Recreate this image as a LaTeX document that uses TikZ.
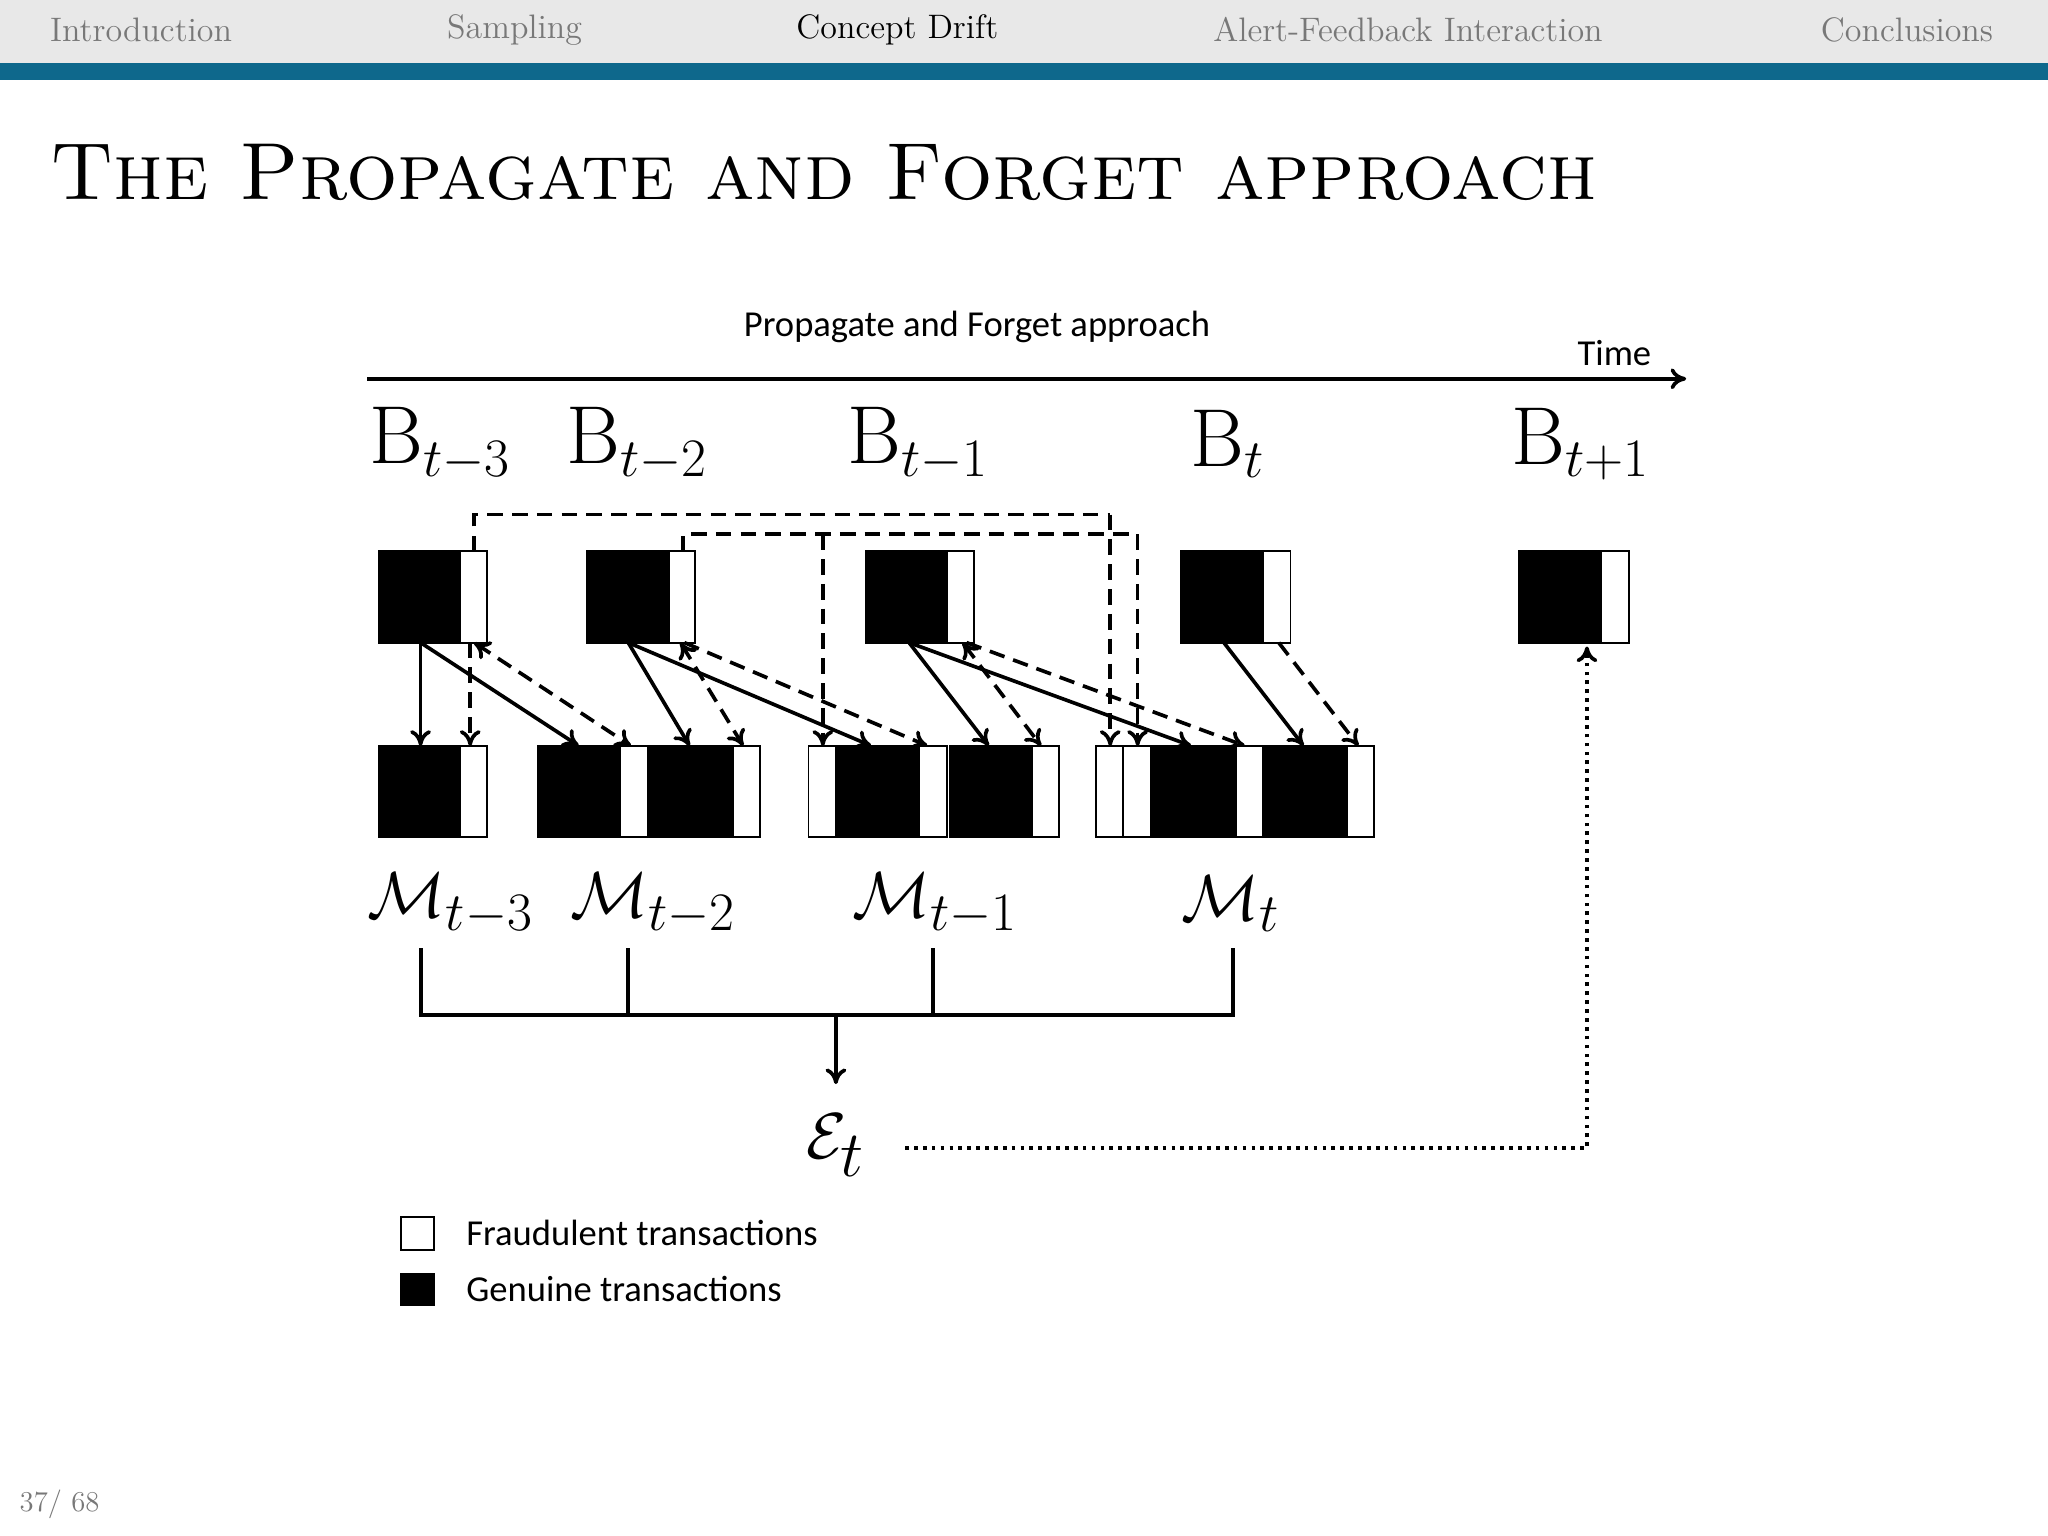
\documentclass[tikz,border=0pt]{standalone}
\usepackage{fontspec}
\newfontfamily\carlitofont{Carlito}
\usetikzlibrary{arrows.meta}
\definecolor{navgray}{RGB}{232,232,232}
\definecolor{navtext}{RGB}{120,120,120}
\definecolor{barblue}{RGB}{14,104,140}
\tikzset{
 blk/.style={fill=black,draw=black,line width=0.7pt},
 wht/.style={fill=white,draw=black,line width=0.7pt},
 tip/.tip={To[length=6pt,width=8pt]},
 arr/.style={line width=1.4pt,-tip},
 darr/.style={arr,dash pattern=on 6pt off 3.5pt},
 dline/.style={line width=1.4pt,dash pattern=on 6pt off 3.5pt},
 nav/.style={font=\fontsize{13}{13}\selectfont,text=navtext},
 lab/.style={font=\fontsize{31.5}{31.5}\selectfont},
 sans/.style={font=\carlitofont\fontsize{14}{14}\selectfont}
}
\begin{document}
\begin{tikzpicture}[x=0.5pt,y=-0.5pt]
\useasboundingbox (0,0) rectangle (1568,1176);
\fill[white] (0,0) rectangle (1568,1176);
\fill[navgray] (0,0) rectangle (1568,48);
\fill[barblue] (0,48) rectangle (1568,61);
\node[nav] (n1) at (108,23) {Introduction};
\node[nav] (n2) at (394,23) {Sampling};
\node[nav,text=black] (n3) at (687,23) {Concept Drift};
\node[nav] (n4) at (1078,23) {Alert-Feedback Interaction};
\node[nav] (n5) at (1460,23) {Conclusions};
\node[anchor=base west,font=\fontsize{31}{31}\selectfont,inner sep=0] (title) at (38,153) {\textsc{The Propagate and Forget approach}};
\node[sans] (cap) at (748,250) {Propagate and Forget approach};
\node[sans] (time) at (1236,270) {Time};
\coordinate (ta) at (281,290); \coordinate (tb) at (1291,290);
\draw[arr] (ta) -- (tb);
% B labels
\node[lab] (b3) at (337,340) {B$_{t-3}$};
\node[lab] (b2) at (488,340) {B$_{t-2}$};
\node[lab] (b1) at (703,340) {B$_{t-1}$};
\node[lab] (b0) at (940,340) {B$_{t}$};
\node[lab] (bp) at (1210,340) {B$_{t+1}$};
% top boxes
\foreach \a/\b/\c in {290/352/373,449/512/532,663/725/746,904/967/988,1163/1226/1247}{
 \filldraw[blk] (\a,422) rectangle (\b,492);
 \filldraw[wht] (\b,422) rectangle (\c,492);}
% bottom boxes
\foreach \a/\b/\c in {290/352/373,412/475/496,497/561/582,640/704/725,727/790/811,881/946/967,968/1031/1052}{
 \filldraw[blk] (\a,571) rectangle (\b,641);
 \filldraw[wht] (\b,571) rectangle (\c,641);}
\filldraw[wht] (619,571) rectangle (640,641);
\filldraw[wht] (839,571) rectangle (860,641);
\filldraw[wht] (860,571) rectangle (881,641);
% box1 arrows
\draw[arr] (322,492) -- (322,571);
\draw[darr] (360,492) -- (360,571);
\draw[arr] (322,492) -- (443,571);
\draw[darr,tip-tip] (363,492) -- (483,571);
% box2
\draw[arr] (481,492) -- (528,571);
\draw[arr] (481,492) -- (667,571);
\draw[darr,tip-tip] (521,492) -- (569,571);
\draw[darr] (524,492) -- (710,571);
% box3
\draw[arr] (696,492) -- (757,571);
\draw[arr] (696,492) -- (912,571);
\draw[darr,tip-tip] (737,492) -- (797,571);
\draw[darr] (740,492) -- (953,571);
% box4
\draw[arr] (937,492) -- (998,571);
\draw[darr] (979,492) -- (1040,571);
% long dashed
\draw[dline] (363,422) -- (363,394) -- (850,394);
\draw[darr] (850,394) -- (850,571);
\draw[dline] (523,422) -- (523,409) -- (871,409);
\draw[darr] (871,409) -- (871,571);
\draw[darr] (630,409) -- (630,571);
% M labels
\node[lab] (m3) at (345,692) {$\mathcal{M}_{t-3}$};
\node[lab] (m2) at (500,692) {$\mathcal{M}_{t-2}$};
\node[lab] (m1) at (716,692) {$\mathcal{M}_{t-1}$};
\node[lab] (m0) at (942,692) {$\mathcal{M}_{t}$};
\draw[line width=1.5pt] (322,726) -- (322,777) -- (944,777) -- (944,726);
\draw[line width=1.5pt] (481,726) -- (481,777);
\draw[line width=1.5pt] (714,726) -- (714,777);
\coordinate (ea) at (640,777);
\node[font=\fontsize{34}{34}\selectfont] (et) at (640,877) {$\mathcal{E}_{t}$};
\draw[arr] (ea) -- (640,830);
\coordinate (dc) at (1215,879);
\draw[line width=1.4pt,dotted,-tip] (693,879) -- (dc) -- (1215,495);
% legend
\draw[line width=0.8pt] (307,932) rectangle (332,957);
\filldraw[blk] (307,975) rectangle (332,999);
\node[sans,anchor=west] (lf) at (350,944) {Fraudulent transactions};
\node[sans,anchor=west] (lg) at (350,987) {Genuine transactions};
\node[anchor=west,text=navtext,font=\fontsize{11}{11}\selectfont] (pg) at (8,1152) {37/ 68};
\end{tikzpicture}
\end{document}
